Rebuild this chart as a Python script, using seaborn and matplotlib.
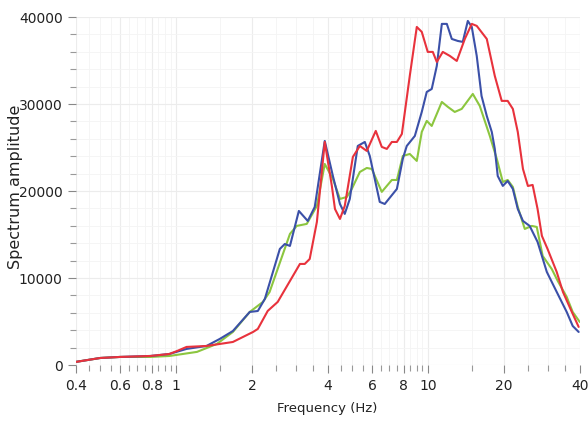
import numpy as np
import pandas as pd
import matplotlib
matplotlib.use("Agg")
import matplotlib.pyplot as plt
import seaborn as sns
from matplotlib.ticker import FixedLocator, NullFormatter, MultipleLocator

# ---- data ----
freq_blue = [0.40, 0.50, 0.60, 0.79, 0.94, 1.10, 1.32, 1.49, 1.68, 1.96, 2.11, 2.25, 2.58, 2.70,
             2.83, 3.07, 3.33, 3.55, 3.89, 4.19, 4.47, 4.67, 4.89, 5.26, 5.61, 5.87, 6.43, 6.73,
             7.52, 7.94, 8.23, 8.86, 9.44, 9.88, 10.34, 10.83, 11.34, 11.87, 12.42, 13.12, 13.73,
             14.38, 14.91, 15.6, 16.3, 17.1, 17.9, 18.4, 18.9, 19.8, 20.7, 21.7, 22.7, 23.8, 25.3,
             27.2, 29.6, 32.4, 35.5, 37.5, 39.6]
amp_blue = [350, 800, 920, 1030, 1260, 1840, 2180, 2990, 3900, 6090, 6200, 7590, 13330, 13900,
            13680, 17700, 16550, 18160, 25750, 21720, 18500, 17360, 19080, 25170, 25630, 24020, 18740, 18500,
            20230, 23700, 25170, 26320, 29080, 31380, 31720, 34370, 39200, 39200, 37470, 37240, 37130,
            39540, 38850, 35520, 30920, 28620, 26780, 24830, 21720, 20580, 21150, 20230, 17930, 16550, 15980,
            14140, 10690, 8390, 6090, 4480, 3790]

freq_green = [0.40, 0.50, 0.60, 0.79, 0.94, 1.21, 1.45, 1.68, 1.96, 2.21, 2.35, 2.83, 3.01, 3.30,
              3.62, 3.89, 4.19, 4.47, 4.76, 4.98, 5.36, 5.71, 5.98, 6.55, 6.86, 7.18, 7.52, 7.94,
              8.46, 9.02, 9.44, 9.88, 10.34, 11.34, 11.98, 12.76, 13.6, 15.05, 16.04, 17.58, 18.74,
              19.8, 20.7, 21.7, 22.7, 24.2, 25.8, 27.0, 28.5, 30.96, 32.7, 35.5, 37.5, 40.0]
amp_green = [350, 800, 920, 920, 1030, 1500, 2410, 3790, 6090, 7240, 8390, 15060, 15980, 16210,
             18280, 23100, 21380, 19080, 19310, 20230, 22180, 22640, 22530, 19890, 20580, 21260, 21260, 24020,
             24250, 23450, 26780, 28050, 27470, 30230, 29660, 29080, 29430, 31150, 29770, 26320, 23680,
             21030, 21260, 20460, 18160, 15630, 15980, 15860, 12530, 11030, 9660, 7820, 6090, 4940]

freq_red = [0.40, 0.50, 0.60, 0.79, 0.94, 1.01, 1.10, 1.32, 1.68, 2.02, 2.11, 2.31, 2.53, 3.10,
            3.24, 3.39, 3.62, 3.89, 4.15, 4.27, 4.47, 4.67, 5.03, 5.36, 5.71, 6.20, 6.55, 6.86,
            7.18, 7.52, 7.87, 8.46, 9.02, 9.44, 9.97, 10.44, 10.83, 11.44, 12.2, 13.0, 13.99,
            14.91, 15.6, 17.1, 18.4, 19.6, 20.7, 21.7, 22.7, 23.8, 24.9, 26.0, 27.2, 28.3, 29.8,
            32.4, 34.3, 37.2, 39.6]
amp_red = [350, 800, 920, 1030, 1260, 1610, 2070, 2180, 2640, 3790, 4140, 6210, 7240, 11610,
           11610, 12180, 16440, 25630, 20580, 17930, 16780, 18280, 23910, 25170, 24600, 26900, 25060, 24830,
           25630, 25630, 26550, 33220, 38850, 38280, 35980, 35980, 34830, 35980, 35520, 34940, 37470,
           39200, 38970, 37470, 33220, 30350, 30350, 29430, 26780, 22530, 20570, 20690, 17930, 14830, 13330,
           10690, 8390, 6090, 4370]

x_ticks = [0.4, 0.6, 0.8, 1, 2, 4, 6, 8, 10, 20, 40]
x_tick_labels = ["0.4", "0.6", "0.8", "1", "2", "4", "6", "8", "10", "20", "40"]
x_minor_ticks = [0.45, 0.5, 0.55, 0.65, 0.7, 0.75, 0.85, 0.9, 0.95, 1.5, 2.5, 3, 3.5,
                 4.5, 5, 5.5, 6.5, 7, 7.5, 8.5, 9, 9.5, 15, 25, 30, 35]
y_ticks = [0, 10000, 20000, 30000, 40000]

series = [("green", freq_green, amp_green, "#8cc63f"),
          ("blue", freq_blue, amp_blue, "#3b50a8"),
          ("red", freq_red, amp_red, "#e8323c")]

sns.set_theme(style="white")
plt.rcParams['font.family'] = ['DejaVu Sans']

fig = plt.figure(figsize=(5.88, 4.27), dpi=100)
ax = fig.add_axes([0.129, 0.143, 0.857, 0.815])

for name, fx, fy, col in series:
    df = pd.DataFrame({"f": fx, "a": fy})
    sns.lineplot(data=df, x="f", y="a", ax=ax, color=col, linewidth=1.5,
                 estimator=None, sort=False)

ax.set_xscale("log")
ax.set_xlim(0.4, 40)
ax.set_ylim(0, 40000)

ax.xaxis.set_major_locator(FixedLocator(x_ticks))
ax.set_xticklabels(x_tick_labels)
ax.xaxis.set_minor_locator(FixedLocator(x_minor_ticks))
ax.xaxis.set_minor_formatter(NullFormatter())
ax.yaxis.set_major_locator(FixedLocator(y_ticks))
ax.yaxis.set_minor_locator(MultipleLocator(2000))

ax.grid(True, which="major", color="#ececec", linewidth=0.8)
ax.grid(True, which="minor", color="#f4f4f4", linewidth=0.6)
ax.set_axisbelow(True)

for s in ax.spines.values():
    s.set_visible(False)

ax.tick_params(axis="both", which="major", labelsize=10, colors="#222222",
               length=6, width=0.8, color="#888888", direction="out", bottom=True, left=True)
ax.tick_params(axis="both", which="minor", length=4, width=0.8, color="#999999",
               direction="out", bottom=True, left=True)

ax.set_xlabel("Frequency (Hz)", fontsize=9.5, color="#222222")
ax.set_ylabel("Spectrum amplitude", fontsize=11.5, color="#222222")
ax.xaxis.set_label_coords(0.498, -0.105)
ax.yaxis.set_label_coords(-0.12, 0.514)
ax.yaxis.label.set_verticalalignment("center")
if ax.get_legend():
    ax.get_legend().remove()

fig.savefig("out.png", dpi=100)
